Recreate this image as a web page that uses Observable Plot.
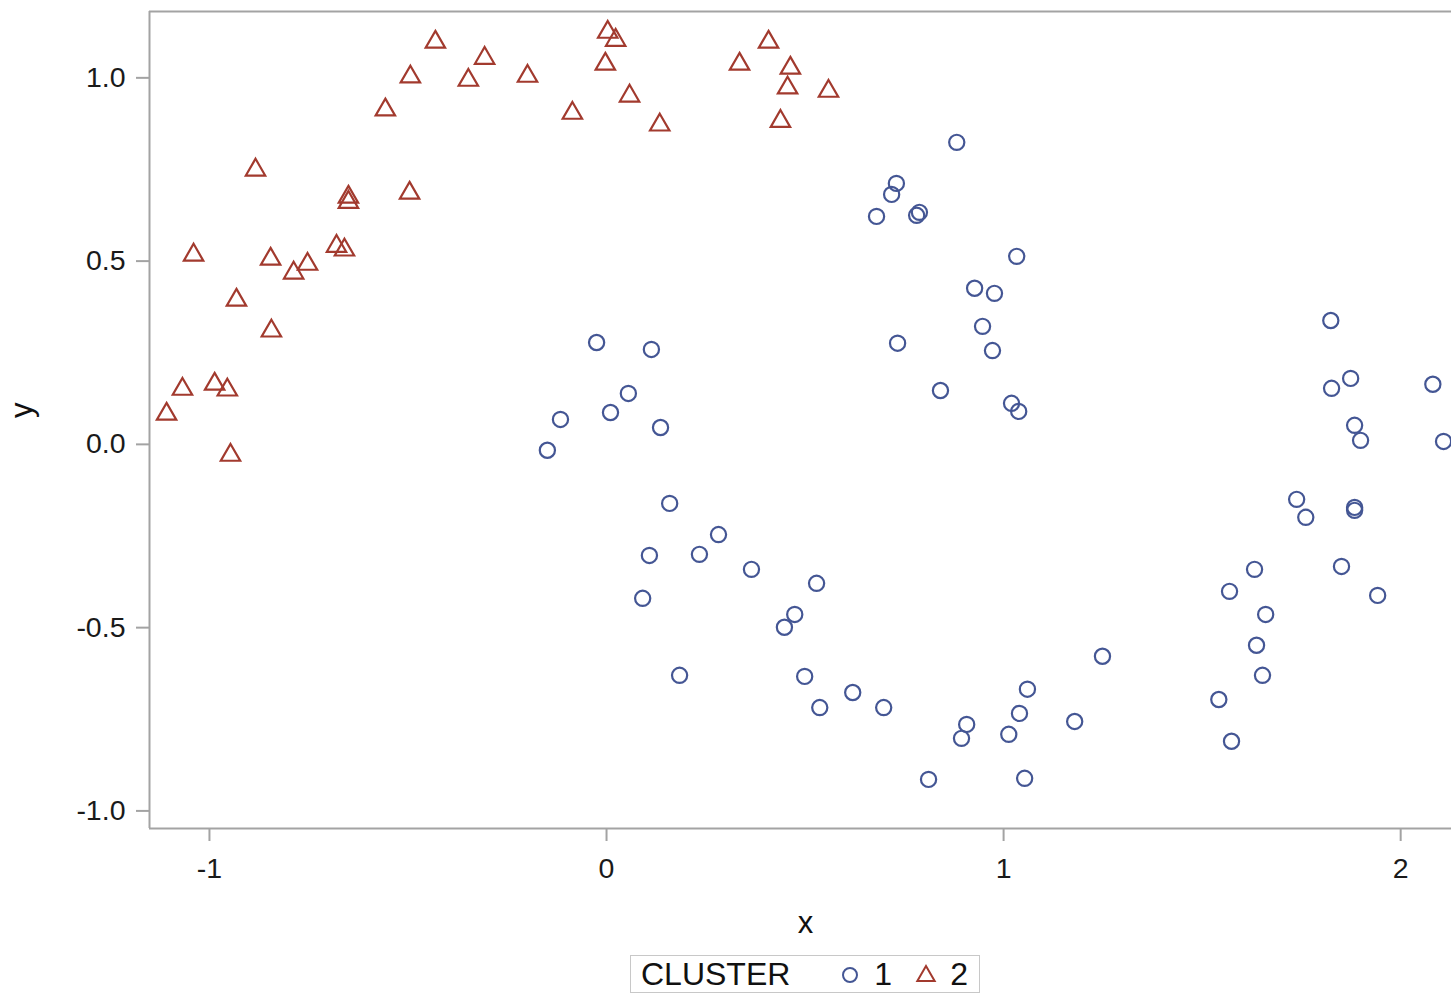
<!DOCTYPE html>
<html>
<head>
<meta charset="utf-8">
<script src="https://cdn.jsdelivr.net/npm/d3@7"></script>
<script src="https://cdn.jsdelivr.net/npm/@observablehq/plot@0.6"></script>
<style>
  html, body { margin: 0; padding: 0; background: white; overflow: hidden; }
  #legend {
    margin-left: 630px; margin-top: 3px; width: 348px; height: 36px;
    border: 1px solid #c8c8c8; display: flex; align-items: center;
    font-family: "Liberation Sans", Arial, sans-serif; font-size: 32px; color: #111;
    box-sizing: content-box;
  }
  #legend span { line-height: 36px; }
</style>
</head>
<body>
<div id="chart"></div>
<div id="legend"></div>
<script>
// Cluster 1 (circles)
const cluster1X = [-0.149, -0.116, -0.025, 0.010, 0.055, 0.113, 0.136, 0.159, 0.108, 0.091,
  0.184, 0.234, 0.282, 0.365, 0.529, 0.474, 0.448, 0.499, 0.537, 0.620,
  0.698, 0.811, 0.894, 0.907, 1.013, 1.040, 1.060, 1.053, 1.179, 1.249,
  0.680, 0.718, 0.730, 0.781, 0.788, 0.882, 0.733, 0.841, 0.927, 0.977,
  0.947, 0.972, 1.033, 1.020, 1.038, 1.542, 1.574, 1.569, 1.632, 1.637,
  1.652, 1.660, 1.738, 1.761, 1.851, 1.884, 1.884, 1.942, 1.824, 1.826,
  1.874, 1.884, 1.899, 2.081, 2.108];
const cluster1Y = [-0.016, 0.068, 0.278, 0.087, 0.139, 0.259, 0.046, -0.161, -0.303, -0.420,
  -0.630, -0.300, -0.246, -0.341, -0.379, -0.464, -0.499, -0.633, -0.718, -0.677,
  -0.718, -0.914, -0.802, -0.764, -0.791, -0.734, -0.668, -0.911, -0.756, -0.578,
  0.622, 0.682, 0.712, 0.625, 0.633, 0.824, 0.276, 0.147, 0.426, 0.412,
  0.322, 0.256, 0.513, 0.112, 0.090, -0.696, -0.810, -0.401, -0.341, -0.548,
  -0.630, -0.464, -0.150, -0.199, -0.333, -0.172, -0.180, -0.412, 0.338, 0.153,
  0.180, 0.052, 0.011, 0.164, 0.008];
// Cluster 2 (triangles)
const cluster2X = [-1.108, -1.068, -1.040, -0.987, -0.955, -0.947, -0.932, -0.884, -0.846, -0.844,
  -0.788, -0.753, -0.680, -0.660, -0.650, -0.650, -0.557, -0.496, -0.494, -0.431,
  -0.348, -0.307, -0.199, -0.086, -0.003, 0.003, 0.023, 0.058, 0.134, 0.335,
  0.408, 0.438, 0.456, 0.463, 0.559];
const cluster2Y = [0.090, 0.158, 0.524, 0.172, 0.156, -0.022, 0.401, 0.756, 0.513, 0.317,
  0.475, 0.499, 0.548, 0.538, 0.682, 0.668, 0.920, 0.693, 1.010, 1.105,
  1.001, 1.061, 1.012, 0.911, 1.045, 1.132, 1.110, 0.958, 0.879, 1.045,
  1.105, 0.889, 0.980, 1.034, 0.971];

const xTicks = [-1, 0, 1, 2];
const yTicks = [-1.0, -0.5, 0.0, 0.5, 1.0];
const xDomain = [-1.151, 2.128];
const yDomain = [-1.048, 1.181];
const clusterLabels = ["1", "2"];
const clusterColors = ["#445694", "#A23A2E"];

const c1 = cluster1X.map((x, i) => ({x, y: cluster1Y[i], cluster: "1"}));
const c2 = cluster2X.map((x, i) => ({x, y: cluster2Y[i], cluster: "2"}));

const frameColor = "#a3a3a3";

const plot = Plot.plot({
  width: 1451,
  height: 952,
  marginLeft: 149,
  marginRight: 0,
  marginTop: 11,
  marginBottom: 124,
  x: {domain: xDomain},
  y: {domain: yDomain},
  style: {fontFamily: "'Liberation Sans', Arial, sans-serif", fontSize: "28px", color: "#1a1a1a", background: "white", overflow: "visible"},
  marks: [
    Plot.axisX(xTicks, {tickSize: 13, tickPadding: 16, stroke: frameColor, strokeWidth: 2, tickFormat: d => String(d), label: null, fontSize: 28.5}),
    Plot.axisY(yTicks, {tickSize: 13, tickPadding: 11, stroke: frameColor, strokeWidth: 2, tickFormat: d => d.toFixed(1), label: null, fontSize: 28.5}),
    Plot.ruleX([xDomain[0]], {stroke: frameColor, strokeWidth: 2}),
    Plot.ruleY([yDomain[0], yDomain[1]], {stroke: frameColor, strokeWidth: 2}),
    Plot.dot(c1, {x: "x", y: "y", r: 7.6, symbol: "circle", stroke: clusterColors[0], strokeWidth: 2.2, fill: "none"}),
    Plot.dot(c2, {x: "x", y: "y", r: 7.2, symbol: "triangle", stroke: clusterColors[1], strokeWidth: 2.2, fill: "none", dy: 2.7}),
    Plot.text(["x"], {text: d => d, frameAnchor: "bottom", dy: 104, dx: 5, fontSize: 31, fill: "#111"}),
    Plot.text(["y"], {text: d => d, frameAnchor: "left", dx: -127, dy: -2, rotate: -90, fontSize: 31, fill: "#111"})
  ]
});
document.getElementById("chart").appendChild(plot);

// Legend
const legend = document.getElementById("legend");
const circleSvg = `<svg width="20" height="20" style="margin-left:50px;margin-right:14px"><circle cx="10" cy="11" r="7" fill="none" stroke="${clusterColors[0]}" stroke-width="2"/></svg>`;
const triPath = d3.symbol(d3.symbolTriangle, 130)();
const triSvg = `<svg width="22" height="22" style="margin-left:23px;margin-right:13px"><path transform="translate(11,13)" d="${triPath}" fill="none" stroke="${clusterColors[1]}" stroke-width="2"/></svg>`;
legend.innerHTML = `<span style="margin-left:10px">CLUSTER</span>${circleSvg}<span>${clusterLabels[0]}</span>${triSvg}<span>${clusterLabels[1]}</span>`;
</script>
</body>
</html>
